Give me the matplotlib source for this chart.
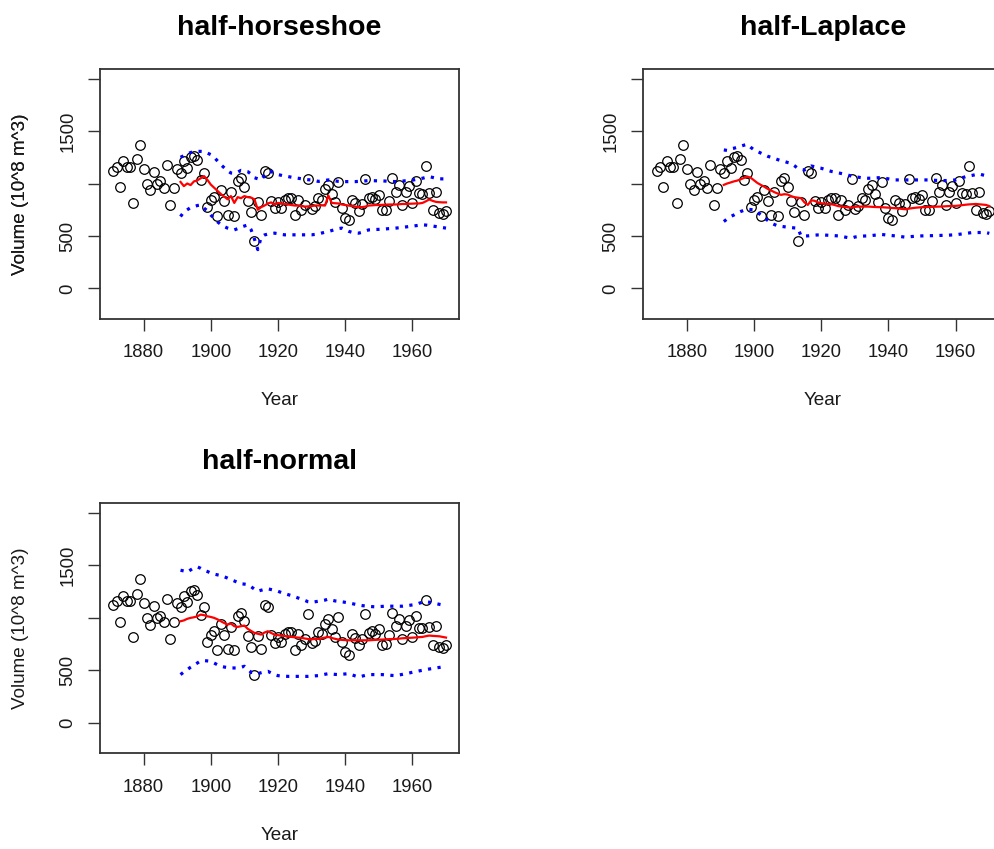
import matplotlib
matplotlib.use("Agg")
import matplotlib.pyplot as plt
import numpy as np

plt.rcParams['font.family'] = ['Liberation Sans', 'DejaVu Sans']

# Annual Nile flow at Aswan, 1871-1970
years = list(range(1871, 1971))
nile = [1120, 1160, 963, 1210, 1160, 1160, 813, 1230, 1370, 1140,
        995, 935, 1110, 994, 1020, 960, 1180, 799, 958, 1140,
        1100, 1210, 1150, 1250, 1260, 1220, 1030, 1100, 774, 840,
        874, 694, 940, 833, 701, 916, 692, 1020, 1050, 969,
        831, 726, 456, 824, 702, 1120, 1100, 832, 764, 821,
        768, 845, 864, 862, 698, 845, 744, 796, 1040, 759,
        781, 865, 845, 944, 984, 897, 822, 1010, 771, 676,
        649, 846, 812, 742, 801, 1040, 860, 874, 848, 890,
        744, 749, 838, 1050, 918, 986, 797, 923, 975, 815,
        1020, 906, 901, 1170, 912, 746, 919, 718, 714, 740]

# Fitted level (median) and interval bounds, 1891-1970
fit_years = list(range(1891, 1971))

hs_med = [1015, 975, 1000, 985, 1020, 1030, 1050, 1070, 1035, 990,
          960, 930, 900, 875, 850, 880, 815, 870, 860, 880,
          870, 865, 850, 750, 775, 790, 810, 820, 800, 815,
          810, 805, 800, 795, 790, 790, 785, 780, 782, 785,
          790, 790, 792, 790, 885, 815, 812, 810, 800, 795,
          790, 785, 780, 775, 775, 780, 790, 792, 795, 795,
          797, 798, 800, 800, 800, 802, 805, 805, 807, 808,
          810, 810, 815, 830, 848, 835, 825, 822, 820, 820]
hs_hi = [1250, 1265, 1280, 1295, 1304, 1306, 1306, 1304, 1290, 1275,
         1250, 1215, 1180, 1150, 1120, 1100, 1098, 1108, 1125, 1120,
         1113, 1090, 1055, 1045, 1034, 1075, 1105, 1113, 1100, 1085,
         1078, 1070, 1066, 1060, 1055, 1050, 1045, 1040, 1036, 1034,
         1028, 1020, 1025, 1030, 1034, 1030, 1025, 1020, 1018, 1018,
         1018, 1018, 1018, 1020, 1022, 1025, 1028, 1027, 1026, 1025,
         1025, 1023, 1020, 1019, 1018, 1020, 1023, 1026, 1028, 1032,
         1038, 1044, 1050, 1058, 1066, 1058, 1050, 1045, 1044, 1044]
hs_lo = [685, 730, 750, 770, 780, 790, 796, 765, 740, 700,
         670, 635, 610, 590, 575, 565, 558, 570, 585, 595,
         605, 560, 470, 370, 490, 510, 518, 524, 527, 522,
         515, 511, 511, 511, 511, 511, 511, 511, 511, 511,
         515, 520, 528, 536, 542, 552, 562, 570, 575, 560,
         545, 535, 530, 527, 535, 548, 558, 560, 562, 563,
         565, 567, 570, 572, 575, 578, 582, 586, 590, 594,
         598, 602, 606, 604, 600, 595, 590, 585, 580, 575]

la_med = [987, 1000, 1010, 1020, 1028, 1040, 1053, 1066, 1055, 1030,
          1005, 987, 970, 950, 935, 918, 905, 892, 898, 895,
          880, 870, 865, 860, 820, 796, 840, 835, 820, 812,
          808, 805, 803, 795, 785, 780, 777, 773, 771, 778,
          780, 780, 780, 780, 778, 776, 775, 774, 772, 770,
          767, 765, 762, 758, 755, 760, 765, 769, 772, 774,
          775, 777, 778, 779, 780, 781, 783, 785, 786, 787,
          790, 794, 798, 801, 803, 805, 802, 799, 796, 785]
la_hi = [1320, 1315, 1330, 1336, 1345, 1355, 1365, 1374, 1345, 1320,
         1305, 1290, 1275, 1260, 1250, 1240, 1228, 1218, 1210, 1200,
         1193, 1170, 1145, 1135, 1129, 1150, 1167, 1160, 1150, 1145,
         1135, 1125, 1115, 1110, 1102, 1095, 1088, 1080, 1070, 1062,
         1060, 1055, 1052, 1050, 1051, 1053, 1055, 1056, 1050, 1044,
         1038, 1034, 1034, 1034, 1034, 1034, 1034, 1034, 1034, 1034,
         1034, 1034, 1032, 1030, 1029, 1028, 1028, 1030, 1032, 1034,
         1045, 1055, 1066, 1072, 1078, 1085, 1091, 1082, 1074, 1066]
la_lo = [638, 662, 685, 700, 718, 733, 745, 755, 752, 749,
         725, 701, 675, 650, 625, 610, 597, 592, 588, 584,
         580, 577, 575, 500, 500, 501, 505, 508, 510, 511,
         509, 507, 505, 503, 501, 496, 490, 484, 480, 490,
         495, 498, 500, 501, 504, 508, 511, 514, 511, 507,
         504, 501, 497, 493, 489, 492, 495, 497, 499, 501,
         502, 503, 503, 504, 505, 506, 507, 508, 510, 511,
         516, 520, 525, 529, 533, 533, 533, 533, 533, 525]

hn_med = [967, 975, 990, 999, 1005, 1014, 1030, 1025, 1014, 1008,
          999, 985, 967, 950, 935, 945, 920, 913, 920, 926,
          895, 875, 856, 848, 840, 860, 872, 855, 840, 835,
          831, 827, 822, 818, 815, 812, 809, 803, 798, 795,
          799, 799, 805, 812, 818, 808, 800, 793, 790, 788,
          786, 786, 786, 786, 786, 786, 786, 788, 790, 792,
          793, 795, 797, 798, 799, 802, 805, 807, 809, 811,
          813, 816, 818, 825, 831, 828, 826, 824, 818, 812]
hn_hi = [1452, 1445, 1433, 1455, 1475, 1484, 1470, 1452, 1440, 1425,
         1415, 1408, 1402, 1390, 1377, 1363, 1350, 1336, 1323, 1320,
         1316, 1295, 1272, 1252, 1262, 1270, 1275, 1268, 1260, 1252,
         1240, 1230, 1220, 1211, 1200, 1188, 1176, 1165, 1152, 1147,
         1152, 1157, 1162, 1168, 1178, 1168, 1160, 1157, 1152, 1147,
         1142, 1135, 1128, 1121, 1116, 1112, 1109, 1106, 1104, 1106,
         1108, 1110, 1110, 1110, 1110, 1110, 1110, 1114, 1118, 1122,
         1126, 1138, 1148, 1152, 1148, 1142, 1135, 1128, 1122, 1116]
hn_lo = [460, 485, 507, 530, 550, 570, 590, 593, 590, 586,
         570, 553, 539, 532, 527, 523, 523, 523, 530, 539,
         510, 482, 475, 469, 478, 486, 491, 475, 460, 450,
         447, 445, 443, 443, 443, 443, 443, 443, 443, 445,
         448, 450, 457, 463, 469, 465, 462, 460, 463, 466,
         469, 458, 447, 437, 445, 453, 460, 460, 460, 460,
         460, 457, 455, 452, 450, 456, 462, 469, 475, 482,
         488, 495, 501, 507, 513, 518, 523, 528, 533, 533]

titles = ["half-horseshoe", "half-Laplace", "half-normal"]
x_ticks = [1880, 1900, 1920, 1940, 1960]
y_ticks = [0, 500, 1000, 1500, 2000]
y_tick_labels = ["0", "500", "", "1500", ""]

W, H = 995, 849
fig = plt.figure(figsize=(W / 100, H / 100), dpi=100)
fig.patch.set_facecolor("white")

# plot-region boxes in pixels: (left, top, right, bottom)
boxes = [(100, 69.3, 459.3, 318.7),
         (643.3, 69.3, 1002.6, 318.7),
         (100, 503.3, 459.3, 753.3)]
series = [(hs_med, hs_lo, hs_hi), (la_med, la_lo, la_hi), (hn_med, hn_lo, hn_hi)]

text_col = "#1a1a1a"
for (l, t, r, b), title, (med, lo, hi) in zip(boxes, titles, series):
    ax = fig.add_axes([l / W, 1 - b / H, (r - l) / W, (b - t) / H])
    ax.plot(years, nile, linestyle="none", marker="o", markersize=6.9,
            markerfacecolor="none", markeredgecolor="black", markeredgewidth=0.9)
    ax.plot(fit_years, med, color="#ff0000", lw=1.6)
    for band in (lo, hi):
        ax.plot(fit_years, band, color="#0000ff", lw=2.3,
                linestyle=(0, (1.0, 2.0)))
    ax.set_xlim(1867.04, 1973.96)
    ax.set_ylim(-288, 2088)
    ax.set_xticks(x_ticks)
    ax.set_xticklabels([str(v) for v in x_ticks])
    ax.set_yticks(y_ticks)
    ax.set_yticklabels(y_tick_labels, rotation=90, va="center")
    ax.tick_params(axis="both", direction="out", length=8.5, width=1.0,
                   color="#333333", labelsize=13.3, labelcolor=text_col, pad=10)
    ax.tick_params(axis="y", pad=8.5)
    for s in ax.spines.values():
        s.set_color("#333333")
        s.set_linewidth(1.3)
    h = b - t
    w = r - l
    ax.set_xlabel("Year", fontsize=13.6, color=text_col)
    ax.xaxis.set_label_coords(0.5, -82.0 / h)
    ax.xaxis.label.set_va("center")
    ax.set_ylabel("Volume (10^8 m^3)", fontsize=13.6, color=text_col)
    ax.yaxis.set_label_coords((20 - l) / w, 0.5)
    ax.yaxis.label.set_va("center")
    ax.yaxis.label.set_ha("center")
    fig.text((l + r) / 2 / W, 1 - (t - 34.5) / H, title, ha="center",
             va="baseline", fontsize=20.5, fontweight="bold", color="black")

fig.savefig("out.png", dpi=100, facecolor="white")
